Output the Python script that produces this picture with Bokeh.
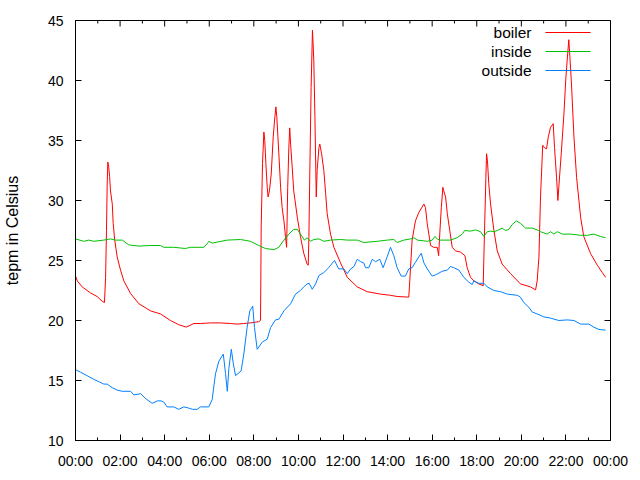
from bokeh.plotting import figure
from bokeh.models import (Range1d, FixedTicker, Label, BoxAnnotation)
from bokeh.embed import file_html
from bokeh.resources import INLINE

# ---- data (time in hours since 00:00, temperature in Celsius) ----
boiler_t = [0.00, 0.08, 0.30, 0.67, 0.97, 1.20, 1.30, 1.35, 1.39, 1.42, 1.45, 1.49, 1.53, 1.57,
            1.65, 1.69, 1.76, 1.87, 2.02, 2.17, 2.47, 2.84, 3.37, 3.81, 4.26, 4.63, 4.97, 5.31,
            5.61, 6.06, 6.51, 6.95, 7.25, 7.55, 7.85, 8.22, 8.30, 8.33, 8.39, 8.45, 8.49, 8.54,
            8.60, 8.64, 8.70, 8.78, 8.87, 8.93, 8.99, 9.03, 9.08, 9.14, 9.20, 9.27, 9.35, 9.42,
            9.47, 9.52, 9.57, 9.61, 9.65, 9.72, 9.79, 9.95, 10.09, 10.24, 10.39, 10.44, 10.47,
            10.51, 10.57, 10.63, 10.69, 10.74, 10.80, 10.84, 10.92, 10.96, 11.04, 11.14, 11.22,
            11.29, 11.44, 11.59, 11.89, 12.19, 12.64, 13.09, 13.68, 14.13, 14.43, 14.95, 14.98,
            15.10, 15.25, 15.40, 15.63, 15.70, 15.78, 15.93, 16.07, 16.23, 16.29, 16.34, 16.41,
            16.48, 16.52, 16.60, 16.68, 16.79, 16.90, 17.05, 17.27, 17.47, 17.57, 17.72, 17.87,
            18.09, 18.29, 18.32, 18.36, 18.41, 18.44, 18.48, 18.54, 18.62, 18.77, 18.92, 19.14,
            19.52, 19.96, 20.41, 20.64, 20.71, 20.79, 20.86, 20.96, 21.04, 21.13, 21.21, 21.31,
            21.43, 21.49, 21.58, 21.64, 21.68, 21.79, 21.91, 22.00, 22.09, 22.13, 22.18, 22.25,
            22.36, 22.48, 22.66, 22.80, 23.10, 23.41, 23.63, 23.78]
boiler_v = [23.7, 23.3, 22.8, 22.3, 22.0, 21.6, 21.5, 23.6, 27.5, 31.2, 33.2, 32.8, 32.0, 30.8,
            29.7, 28.1, 26.7, 25.3, 24.2, 23.3, 22.25, 21.4, 20.8, 20.55, 20.0, 19.65, 19.45, 19.75,
            19.75, 19.8, 19.8, 19.75, 19.7, 19.75, 19.8, 19.9, 20.0, 27.8, 33.1, 35.7, 35.0, 33.1,
            31.1, 30.3, 30.8, 32.2, 35.3, 36.7, 37.8, 37.0, 35.3, 33.3, 31.1, 29.4, 28.3, 27.0,
            26.1, 31.1, 34.4, 36.05, 34.7, 32.8, 30.8, 28.6, 27.0, 25.6, 24.7, 24.6, 27.0,
            32.2, 39.4, 44.2, 41.7, 37.0, 30.3, 32.5, 34.4, 34.7, 33.9, 32.5, 30.6,
            28.9, 27.2, 26.1, 24.8, 23.6, 22.8, 22.4, 22.2, 22.1, 22.0, 21.95, 22.8,
            26.7, 28.3, 29.0, 29.7, 29.4, 28.05, 26.25, 26.1, 26.1, 25.4, 27.2, 29.4,
            31.1, 30.8, 30.3, 28.9, 27.5, 26.1, 25.8, 25.7, 25.4, 24.4, 23.6, 23.3,
            23.05, 22.9, 25.3, 28.3, 31.9, 33.9, 33.3, 31.4, 29.7, 27.5, 25.8, 24.7,
            23.9, 23.05, 22.8, 22.55, 23.3, 25.3, 30.3, 34.6, 34.4, 34.3, 35.3, 36.1,
            36.4, 34.4, 31.9, 30.0, 31.1, 33.9, 37.2, 40.3, 42.5, 43.4, 41.9, 39.7,
            35.3, 31.9, 28.6, 27.0, 25.6, 24.6, 24.0, 23.6]

inside_t = [0.00, 0.37, 0.60, 0.82, 1.27, 1.57, 1.79, 2.10, 2.39, 2.84, 3.37, 3.81, 3.96, 4.41,
            4.93, 5.16, 5.76, 5.91, 5.98, 6.13, 6.81, 7.40, 7.85, 8.22, 8.52, 8.90, 9.12, 9.35,
            9.57, 9.79, 9.95, 10.09, 10.27, 10.39, 10.54, 10.69, 10.92, 11.14, 11.44, 11.89,
            12.19, 12.64, 12.93, 13.54, 13.98, 14.28, 14.43, 14.73, 15.03, 15.18, 15.33, 15.78,
            16.00, 16.12, 16.23, 16.34, 16.82, 17.12, 17.35, 17.46, 17.72, 17.95, 18.17, 18.32,
            18.47, 18.62, 18.77, 18.92, 19.14, 19.29, 19.44, 19.59, 19.78, 19.96, 20.19, 20.49,
            20.71, 20.86, 21.01, 21.16, 21.31, 21.46, 21.61, 21.84, 22.21, 22.66, 22.96, 23.25,
            23.55, 23.78]
inside_v = [26.8, 26.6, 26.7, 26.6, 26.7, 26.8, 26.7, 26.7, 26.3, 26.2, 26.25, 26.25, 26.1, 26.1,
            26.0, 26.1, 26.1, 26.4, 26.6, 26.45, 26.7, 26.75, 26.6, 26.25, 26.0, 25.9, 26.1, 26.7,
            27.2, 27.6, 27.6, 27.2, 26.7, 26.9, 26.6, 26.75, 26.8, 26.6, 26.7, 26.75,
            26.7, 26.7, 26.5, 26.6, 26.7, 26.75, 26.5, 26.7, 26.8, 26.9, 26.7, 26.6,
            26.7, 27.0, 26.8, 26.7, 26.7, 26.9, 27.2, 27.5, 27.45, 27.55, 27.4, 27.0,
            27.4, 27.45, 27.4, 27.5, 27.7, 27.5, 27.6, 28.0, 28.3, 28.1, 27.7, 27.7,
            27.55, 27.4, 27.3, 27.2, 27.4, 27.2, 27.4, 27.2, 27.2, 27.1, 27.1, 27.2,
            27.0, 26.9]

outside_t = [0.00, 0.22, 0.52, 0.82, 1.05, 1.27, 1.42, 1.65, 1.87, 2.10, 2.47, 2.62, 2.92, 3.14,
             3.44, 3.67, 3.84, 3.96, 4.11, 4.41, 4.63, 4.86, 5.08, 5.24, 5.46, 5.61, 5.98, 6.13,
             6.28, 6.43, 6.63, 6.73, 6.81, 6.88, 6.99, 7.08, 7.18, 7.43, 7.55, 7.70, 7.82, 7.95,
             8.03, 8.15, 8.38, 8.60, 8.75, 8.97, 9.12, 9.35, 9.65, 9.87, 10.09, 10.24, 10.39,
             10.48, 10.62, 10.77, 10.92, 11.14, 11.36, 11.44, 11.62, 11.81, 12.04, 12.19, 12.34,
             12.49, 12.64, 12.79, 12.93, 13.01, 13.16, 13.31, 13.46, 13.65, 13.80, 13.98, 14.13,
             14.28, 14.43, 14.61, 14.80, 14.95, 15.10, 15.25, 15.40, 15.51, 15.63, 15.78, 16.00,
             16.15, 16.45, 16.68, 16.82, 16.97, 17.20, 17.42, 17.64, 17.80, 17.87, 18.09, 18.32,
             18.47, 18.77, 19.07, 19.37, 19.82, 19.96, 20.11, 20.34, 20.49, 20.71, 21.01, 21.31,
             21.68, 22.06, 22.36, 22.66, 23.03, 23.25, 23.48, 23.78]
outside_v = [15.9, 15.7, 15.4, 15.1, 14.9, 14.7, 14.7, 14.4, 14.2, 14.1, 14.1, 13.8, 13.9, 13.5,
             13.1, 13.3, 13.3, 13.2, 12.8, 12.8, 12.6, 12.8, 12.7, 12.6, 12.6, 12.8, 12.8, 13.4,
             15.55, 16.6, 17.2, 15.6, 14.1, 16.0, 17.6, 16.4, 15.4, 15.8, 17.2, 19.45, 20.8, 21.2,
             19.4, 17.6, 18.2, 18.45, 19.4, 20.05, 20.1, 20.8, 21.4, 22.2, 22.5, 22.8, 23.05,
             23.1, 22.6, 23.05, 23.75, 24.0, 24.4, 24.6, 25.0, 24.3, 24.3, 23.9, 24.3,
             24.5, 25.1, 24.9, 24.8, 24.4, 24.4, 25.1, 24.9, 25.1, 24.4, 25.3, 26.1,
             25.4, 24.4, 23.7, 23.7, 24.3, 24.4, 24.85, 25.3, 25.6, 24.8, 24.3, 23.7,
             23.8, 24.1, 24.2, 24.5, 24.4, 24.2, 23.6, 23.2, 23.0, 23.3, 23.1, 23.1,
             22.8, 22.5, 22.4, 22.2, 22.1, 21.95, 21.5, 21.1, 20.7, 20.55, 20.3, 20.2,
             20.0, 20.05, 20.0, 19.7, 19.7, 19.45, 19.25, 19.2]

series_names = ["boiler", "inside", "outside"]
series_colors = ["#ff0000", "#00c000", "#0080ff"]

x_ticks = [0, 2, 4, 6, 8, 10, 12, 14, 16, 18, 20, 22, 24]
x_tick_labels = ["00:00", "02:00", "04:00", "06:00", "08:00", "10:00", "12:00",
                 "14:00", "16:00", "18:00", "20:00", "22:00", "00:00"]
x_minor = [1, 3, 5, 7, 9, 11, 13, 15, 17, 19, 21, 23]
y_ticks = [10, 15, 20, 25, 30, 35, 40, 45]
y_title = "tepm in Celsius"

FONT = "Liberation Sans"
X0, X1, Y0, Y1 = 0, 24, 10, 45
FRAME_W, FRAME_H = 535, 420
ML, MR, MT, MB = 75, 30, 20, 40
MAJ, MIN = 6, 3  # tick lengths in px

p = figure(width=ML + FRAME_W + MR, height=MT + FRAME_H + MB,
           output_backend="svg", toolbar_location=None,
           x_range=Range1d(X0, X1), y_range=Range1d(Y0, Y1),
           min_border_left=ML, min_border_right=MR, min_border_top=MT, min_border_bottom=MB,
           background_fill_color="white", border_fill_color="white")
p.grid.visible = False
p.outline_line_color = "black"
p.outline_line_width = 1

xa = p.xaxis[0]
xa.ticker = FixedTicker(ticks=x_ticks, minor_ticks=x_minor)
xa.major_label_overrides = {t: l for t, l in zip(x_ticks, x_tick_labels)}
ya = p.yaxis[0]
ya.ticker = FixedTicker(ticks=y_ticks)
ya.axis_label = y_title

for ax in (xa, ya):
    ax.axis_line_color = "black"
    ax.major_tick_in = MAJ
    ax.major_tick_out = 0
    ax.minor_tick_in = MIN
    ax.minor_tick_out = 0
    ax.major_tick_line_color = "black"
    ax.minor_tick_line_color = "black"
    ax.major_label_text_font = FONT
    ax.major_label_text_font_size = "14px"
    ax.major_label_text_color = "black"
    ax.axis_label_text_font = FONT
    ax.axis_label_text_font_size = "16px"
    ax.axis_label_text_font_style = "normal"
    ax.axis_label_text_color = "black"
ya.minor_tick_line_color = None
xa.major_label_standoff = 12
ya.major_label_standoff = 12
ya.axis_label_standoff = 24

# mirrored ticks on the top and right edges (gnuplot "mirror")
dy_maj = (Y1 - Y0) * MAJ / FRAME_H
dy_min = (Y1 - Y0) * MIN / FRAME_H
dx_maj = (X1 - X0) * MAJ / FRAME_W
p.segment(x0=x_ticks, x1=x_ticks, y0=[Y1] * len(x_ticks), y1=[Y1 - dy_maj] * len(x_ticks),
          line_color="black", line_width=1)
p.segment(x0=x_minor, x1=x_minor, y0=[Y1] * len(x_minor), y1=[Y1 - dy_min] * len(x_minor),
          line_color="black", line_width=1)
p.segment(x0=[X1] * len(y_ticks), x1=[X1 - dx_maj] * len(y_ticks), y0=y_ticks, y1=y_ticks,
          line_color="black", line_width=1)

series = [(boiler_t, boiler_v), (inside_t, inside_v), (outside_t, outside_v)]
for (t, v), c in zip(series, series_colors):
    p.line(t, v, line_color=c, line_width=1)

# gnuplot-style key: text right-aligned, sample line to the right
for i, (name, c) in enumerate(zip(series_names, series_colors)):
    yc = 408 - 19 * i
    p.add_layout(Label(x=456, y=yc, x_units="screen", y_units="screen", text=name,
                       text_align="right", text_baseline="middle", text_font=FONT,
                       text_font_size="15.5px", text_color="black"))
    p.add_layout(BoxAnnotation(left=470, right=515, bottom=yc - 0.5, top=yc + 0.5,
                               left_units="screen", right_units="screen",
                               bottom_units="screen", top_units="screen",
                               fill_color=c, fill_alpha=1, line_color=None))

open("out.html", "w").write(file_html(p, INLINE))
